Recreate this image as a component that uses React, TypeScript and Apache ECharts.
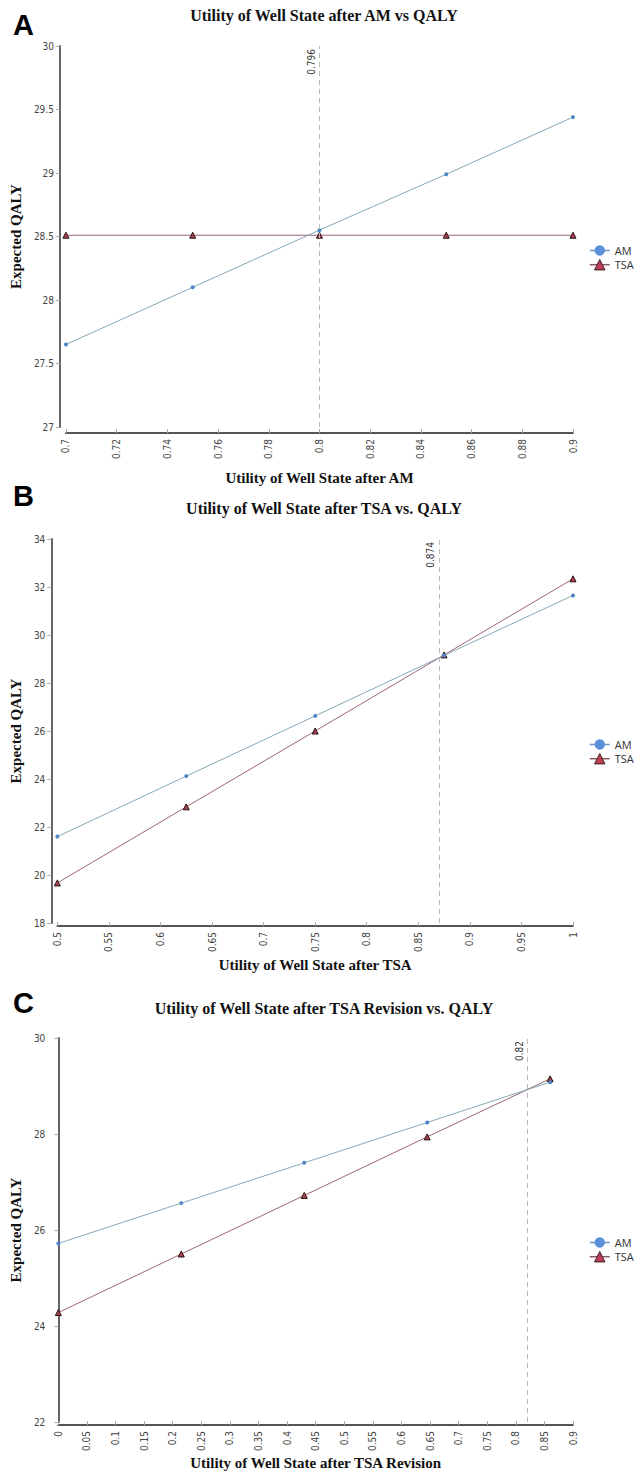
import React, { useEffect, useRef } from "react";
import * as echarts from "echarts";

// Panel A: Utility of Well State after AM
const aX = [0.7, 0.75, 0.8, 0.85, 0.9];
const aAM = [27.65, 28.1, 28.55, 28.99, 29.44];
const aTSA = [28.51, 28.51, 28.51, 28.51, 28.51];

// Panel B: Utility of Well State after TSA
const bX = [0.5, 0.625, 0.75, 0.875, 1];
const bAM = [21.6, 24.12, 26.63, 29.15, 31.65];
const bTSA = [19.67, 22.84, 26.0, 29.17, 32.34];

// Panel C: Utility of Well State after TSA Revision
const cX = [0, 0.215, 0.43, 0.645, 0.86];
const cAM = [25.72, 26.56, 27.4, 28.24, 29.08];
const cTSA = [24.28, 25.5, 26.72, 27.94, 29.15];

const thresholds = [0.796, 0.874, 0.82];
const letters = ["A", "B", "C"];
const titles = [
  "Utility of Well State after AM vs QALY",
  "Utility of Well State after TSA vs. QALY",
  "Utility of Well State after TSA Revision vs. QALY",
];
const xNames = [
  "Utility of Well State after AM",
  "Utility of Well State after TSA",
  "Utility of Well State after TSA Revision",
];
const yName = "Expected QALY";
const seriesNames = ["AM", "TSA"];

const xRanges = [
  [0.7, 0.9, 0.02],
  [0.5, 1, 0.05],
  [0, 0.9, 0.05],
];
const yRanges = [
  [27, 30, 0.5],
  [18, 34, 2],
  [22, 30, 2],
];

const panels = [
  { x: aX, am: aAM, tsa: aTSA },
  { x: bX, am: bAM, tsa: bTSA },
  { x: cX, am: cAM, tsa: cTSA },
];

// layout
const grids = [
  { left: 57, top: 46, width: 516, height: 381 },
  { left: 50, top: 539, width: 523, height: 384 },
  { left: 50, top: 1038, width: 523, height: 384 },
];
const yOffsets = [6, 6, 7];
const xOffsets = [6, 3, 3];
const xNameGaps = [37, 31, 30];
const yNameGaps = [29, 22, 22];
const titleY = [15, 508, 1008];
const letterY = [25, 496, 1003];
const legendTop = [240, 734, 1232];

const serif = "'Liberation Serif', 'Times New Roman', serif";
const narrow = "'Liberation Sans Narrow', 'DejaVu Sans Condensed', 'Liberation Sans', sans-serif";
const fmt = (v: number) => String(+Number(v).toFixed(3));

function buildOption() {
  const graphic: any[] = [];
  letters.forEach((l, i) => {
    graphic.push({
      type: "text",
      x: 13,
      y: letterY[i],
      style: {
        text: l,
        fontSize: 29,
        fontWeight: "bold",
        fontFamily: "'Liberation Sans', Arial, sans-serif",
        fill: "#000",
        verticalAlign: "middle",
        align: "left",
      },
    });
    graphic.push({
      type: "text",
      x: 324,
      y: titleY[i],
      style: {
        text: titles[i],
        fontSize: 16,
        fontWeight: "bold",
        fontFamily: serif,
        fill: "#111",
        verticalAlign: "middle",
        align: "center",
      },
    });
  });

  const xAxis = grids.map((_, i) => ({
    type: "value",
    gridIndex: i,
    min: xRanges[i][0],
    max: xRanges[i][1],
    interval: xRanges[i][2],
    offset: xOffsets[i],
    name: xNames[i],
    nameLocation: "middle",
    nameGap: xNameGaps[i],
    nameTextStyle: { fontFamily: serif, fontWeight: "bold", fontSize: 15, color: "#111" },
    axisLine: { show: true, lineStyle: { color: "#555", width: 2 } },
    axisTick: { show: true, inside: true, length: 4, lineStyle: { color: "#aaa" } },
    axisLabel: {
      rotate: 90,
      margin: 6,
      fontSize: 10,
      color: "#444",
      fontFamily: narrow,
      formatter: fmt,
      showMinLabel: true,
      showMaxLabel: true,
    },
    splitLine: { show: false },
  }));

  const yAxis = grids.map((_, i) => ({
    type: "value",
    gridIndex: i,
    min: yRanges[i][0],
    max: yRanges[i][1],
    interval: yRanges[i][2],
    offset: yOffsets[i],
    name: yName,
    nameLocation: "middle",
    nameGap: yNameGaps[i],
    nameTextStyle: { fontFamily: serif, fontWeight: "bold", fontSize: 15, color: "#111" },
    axisLine: { show: true, lineStyle: { color: "#555", width: 1.8 } },
    axisTick: { show: true, inside: false, length: 4, lineStyle: { color: "#aaa" } },
    axisLabel: {
      margin: 6,
      fontSize: 10,
      color: "#444",
      fontFamily: narrow,
      formatter: fmt,
    },
    splitLine: { show: false },
  }));

  const series: any[] = [];
  panels.forEach((p, i) => {
    series.push({
      name: seriesNames[0],
      type: "line",
      xAxisIndex: i,
      yAxisIndex: i,
      data: p.x.map((x, k) => [x, p.am[k]]),
      symbol: "circle",
      symbolSize: 4,
      itemStyle: { color: "#4f85c6" },
      lineStyle: { color: "#85a8b8", width: 1 },
      z: 3,
      markLine: {
        silent: true,
        symbol: "none",
        animation: false,
        lineStyle: { type: [5, 4], color: "#bbb", width: 1 },
        label: {
          show: true,
          position: "insideEndTop",
          formatter: String(thresholds[i]),
          fontSize: 10,
          color: "#333",
          fontFamily: narrow,
          distance: 3,
        },
        data: [{ xAxis: thresholds[i] }],
      },
    });
    series.push({
      name: seriesNames[1],
      type: "line",
      xAxisIndex: i,
      yAxisIndex: i,
      data: p.x.map((x, k) => [x, p.tsa[k]]),
      symbol: "triangle",
      symbolSize: 6,
      itemStyle: { color: "#a8404f", borderColor: "#2a1414", borderWidth: 1 },
      lineStyle: { color: "#9c6676", width: 1 },
      z: 2,
    });
  });

  const legend = legendTop.map((t) => ({
    orient: "vertical",
    left: 584,
    top: t,
    itemWidth: 20,
    itemHeight: 13,
    itemGap: 3,
    selectedMode: false,
    textStyle: { fontFamily: "'Open Sans', 'Noto Sans', sans-serif", fontSize: 11, color: "#333" },
    data: [
      {
        name: "AM",
        itemStyle: { color: "#5b8fd8", borderWidth: 0 },
        lineStyle: { color: "#6f97c9", width: 1.5 },
      },
      {
        name: "TSA",
        itemStyle: { color: "#c0405a", borderColor: "#3a2020", borderWidth: 1 },
        lineStyle: { color: "#8a5a66", width: 1.5 },
      },
    ],
  }));

  return {
    animation: false,
    backgroundColor: "#fff",
    grid: grids.map((g) => ({ ...g, containLabel: false })),
    xAxis,
    yAxis,
    series,
    legend,
    graphic,
  };
}

export default function App() {
  const ref = useRef<HTMLDivElement>(null);
  useEffect(() => {
    const chart = echarts.init(ref.current!, null, { renderer: "svg" });
    chart.setOption(buildOption() as any);
    return () => chart.dispose();
  }, []);
  return (
    <div
      ref={ref}
      style={{ position: "absolute", left: 0, top: 0, width: 637, height: 1473, background: "#fff" }}
    />
  );
}
